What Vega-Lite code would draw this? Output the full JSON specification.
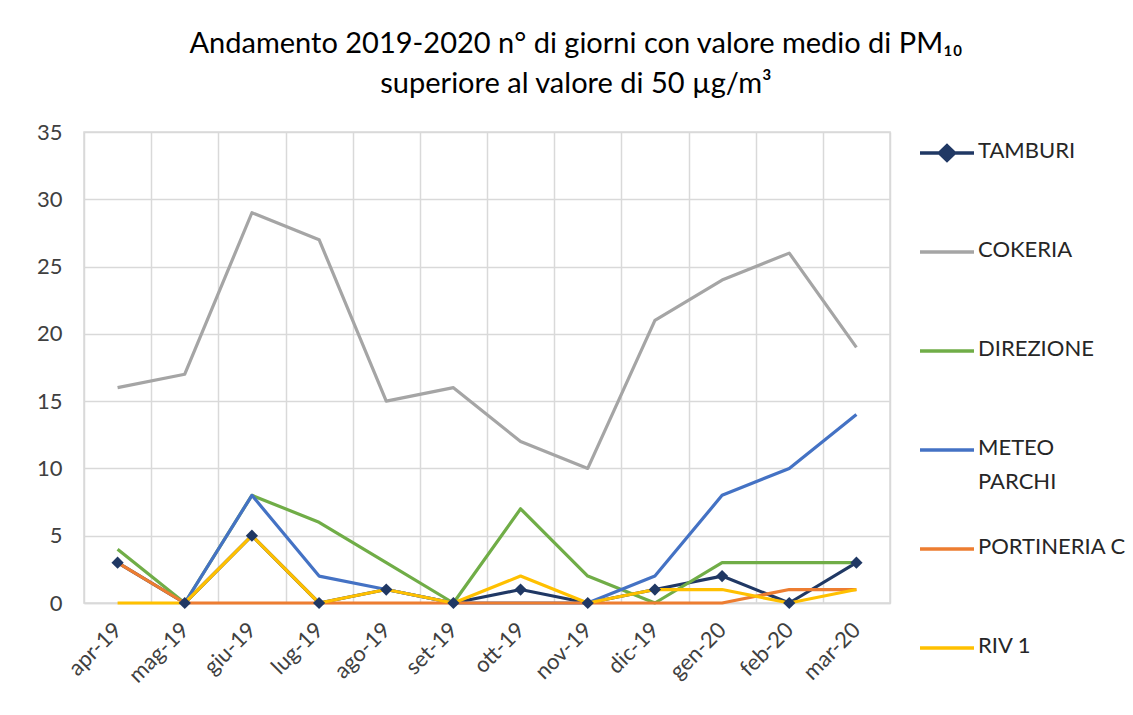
{
  "$schema": "https://vega.github.io/schema/vega-lite/v6.json",
  "width": 806,
  "height": 471,
  "autosize": "none",
  "padding": {"left": 84, "top": 132, "right": 243, "bottom": 112},
  "background": "white",
  "title": {
    "text": ["Andamento 2019-2020 n° di giorni con valore medio di PM₁₀", "superiore al valore di 50 µg/m³"],
    "font": "Lato",
    "fontSize": 29,
    "fontWeight": "normal",
    "color": "#000000",
    "lineHeight": 40,
    "anchor": "middle",
    "dx": 89,
    "offset": 22
  },
  "data": {
    "values": [
      {"month": "apr-19", "series": "TAMBURI", "value": 3},
      {"month": "mag-19", "series": "TAMBURI", "value": 0},
      {"month": "giu-19", "series": "TAMBURI", "value": 5},
      {"month": "lug-19", "series": "TAMBURI", "value": 0},
      {"month": "ago-19", "series": "TAMBURI", "value": 1},
      {"month": "set-19", "series": "TAMBURI", "value": 0},
      {"month": "ott-19", "series": "TAMBURI", "value": 1},
      {"month": "nov-19", "series": "TAMBURI", "value": 0},
      {"month": "dic-19", "series": "TAMBURI", "value": 1},
      {"month": "gen-20", "series": "TAMBURI", "value": 2},
      {"month": "feb-20", "series": "TAMBURI", "value": 0},
      {"month": "mar-20", "series": "TAMBURI", "value": 3},
      {"month": "apr-19", "series": "COKERIA", "value": 16},
      {"month": "mag-19", "series": "COKERIA", "value": 17},
      {"month": "giu-19", "series": "COKERIA", "value": 29},
      {"month": "lug-19", "series": "COKERIA", "value": 27},
      {"month": "ago-19", "series": "COKERIA", "value": 15},
      {"month": "set-19", "series": "COKERIA", "value": 16},
      {"month": "ott-19", "series": "COKERIA", "value": 12},
      {"month": "nov-19", "series": "COKERIA", "value": 10},
      {"month": "dic-19", "series": "COKERIA", "value": 21},
      {"month": "gen-20", "series": "COKERIA", "value": 24},
      {"month": "feb-20", "series": "COKERIA", "value": 26},
      {"month": "mar-20", "series": "COKERIA", "value": 19},
      {"month": "apr-19", "series": "DIREZIONE", "value": 4},
      {"month": "mag-19", "series": "DIREZIONE", "value": 0},
      {"month": "giu-19", "series": "DIREZIONE", "value": 8},
      {"month": "lug-19", "series": "DIREZIONE", "value": 6},
      {"month": "ago-19", "series": "DIREZIONE", "value": 3},
      {"month": "set-19", "series": "DIREZIONE", "value": 0},
      {"month": "ott-19", "series": "DIREZIONE", "value": 7},
      {"month": "nov-19", "series": "DIREZIONE", "value": 2},
      {"month": "dic-19", "series": "DIREZIONE", "value": 0},
      {"month": "gen-20", "series": "DIREZIONE", "value": 3},
      {"month": "feb-20", "series": "DIREZIONE", "value": 3},
      {"month": "mar-20", "series": "DIREZIONE", "value": 3},
      {"month": "mag-19", "series": "METEO PARCHI", "value": 0},
      {"month": "giu-19", "series": "METEO PARCHI", "value": 8},
      {"month": "lug-19", "series": "METEO PARCHI", "value": 2},
      {"month": "ago-19", "series": "METEO PARCHI", "value": 1},
      {"month": "set-19", "series": "METEO PARCHI", "value": 0},
      {"month": "ott-19", "series": "METEO PARCHI", "value": 0},
      {"month": "nov-19", "series": "METEO PARCHI", "value": 0},
      {"month": "dic-19", "series": "METEO PARCHI", "value": 2},
      {"month": "gen-20", "series": "METEO PARCHI", "value": 8},
      {"month": "feb-20", "series": "METEO PARCHI", "value": 10},
      {"month": "mar-20", "series": "METEO PARCHI", "value": 14},
      {"month": "apr-19", "series": "PORTINERIA C", "value": 3},
      {"month": "mag-19", "series": "PORTINERIA C", "value": 0},
      {"month": "giu-19", "series": "PORTINERIA C", "value": 0},
      {"month": "lug-19", "series": "PORTINERIA C", "value": 0},
      {"month": "ago-19", "series": "PORTINERIA C", "value": 0},
      {"month": "set-19", "series": "PORTINERIA C", "value": 0},
      {"month": "ott-19", "series": "PORTINERIA C", "value": 0},
      {"month": "nov-19", "series": "PORTINERIA C", "value": 0},
      {"month": "dic-19", "series": "PORTINERIA C", "value": 0},
      {"month": "gen-20", "series": "PORTINERIA C", "value": 0},
      {"month": "feb-20", "series": "PORTINERIA C", "value": 1},
      {"month": "mar-20", "series": "PORTINERIA C", "value": 1},
      {"month": "apr-19", "series": "RIV 1", "value": 0},
      {"month": "mag-19", "series": "RIV 1", "value": 0},
      {"month": "giu-19", "series": "RIV 1", "value": 5},
      {"month": "lug-19", "series": "RIV 1", "value": 0},
      {"month": "ago-19", "series": "RIV 1", "value": 1},
      {"month": "set-19", "series": "RIV 1", "value": 0},
      {"month": "ott-19", "series": "RIV 1", "value": 2},
      {"month": "nov-19", "series": "RIV 1", "value": 0},
      {"month": "dic-19", "series": "RIV 1", "value": 1},
      {"month": "gen-20", "series": "RIV 1", "value": 1},
      {"month": "feb-20", "series": "RIV 1", "value": 0},
      {"month": "mar-20", "series": "RIV 1", "value": 1}
    ]
  },
  "config": {
    "view": {"stroke": "#D9D9D9", "strokeWidth": 1.5},
    "font": "Lato"
  },
  "encoding": {
    "x": {
      "field": "month",
      "type": "ordinal",
      "sort": null,
      "bandPosition": 0.5,
      "scale": {"type": "band", "paddingInner": 0, "paddingOuter": 0},
      "axis": {
        "title": null,
        "labelAngle": -45,
        "labelAlign": "right",
        "labelBaseline": "middle",
        "labelFont": "Lato",
        "labelFontSize": 22,
        "labelColor": "#404040",
        "labelPadding": 23,
        "ticks": false,
        "tickBand": "extent",
        "domainColor": "#D9D9D9",
        "domainWidth": 1.5,
        "grid": true,
        "gridColor": "#D9D9D9",
        "gridWidth": 1.5
      }
    },
    "y": {
      "field": "value",
      "type": "quantitative",
      "scale": {"domain": [0, 35], "nice": false},
      "axis": {
        "title": null,
        "values": [0, 5, 10, 15, 20, 25, 30, 35],
        "labelFont": "Lato",
        "labelFontSize": 22,
        "labelColor": "#404040",
        "labelPadding": 22,
        "ticks": false,
        "domain": false,
        "grid": true,
        "gridColor": "#D9D9D9",
        "gridWidth": 1.5
      }
    },
    "color": {
      "field": "series",
      "type": "nominal",
      "scale": {
        "domain": ["TAMBURI", "COKERIA", "DIREZIONE", "METEO PARCHI", "PORTINERIA C", "RIV 1"],
        "range": ["#203864", "#A5A5A5", "#70AD47", "#4472C4", "#ED7D31", "#FFC000"]
      },
      "legend": {
        "title": null,
        "orient": "none",
        "legendX": 834,
        "legendY": -8,
        "gridAlign": "all",
        "symbolType": "stroke",
        "symbolSize": 2916,
        "symbolStrokeWidth": 3.5,
        "labelFont": "Lato",
        "labelFontSize": 22,
        "labelColor": "#262626",
        "labelOffset": 2,
        "labelBaseline": "top",
        "labelLimit": 260,
        "rowPadding": 27,
        "labelExpr": "datum.label == 'METEO PARCHI' ? ['METEO', 'PARCHI'] : datum.label",
        "encode": {
          "symbols": {
            "update": {
              "shape": {"signal": "datum.value === 'TAMBURI' ? 'M-1,0H1M0,-0.27L0.28,0L0,0.27L-0.28,0Z' : 'stroke'"},
              "fill": {"signal": "datum.value === 'TAMBURI' ? '#203864' : 'transparent'"}
            }
          },
          "labels": {
            "update": {
              "dy": {"value": -12},
              "lineHeight": {"value": 34}
            }
          }
        }
      }
    }
  },
  "layer": [
    {
      "mark": {"type": "line", "strokeWidth": 3.2, "strokeJoin": "round"}
    },
    {
      "transform": [{"filter": "datum.series === 'TAMBURI'"}],
      "mark": {"type": "point", "shape": "diamond", "filled": true, "size": 150, "opacity": 1}
    }
  ]
}
